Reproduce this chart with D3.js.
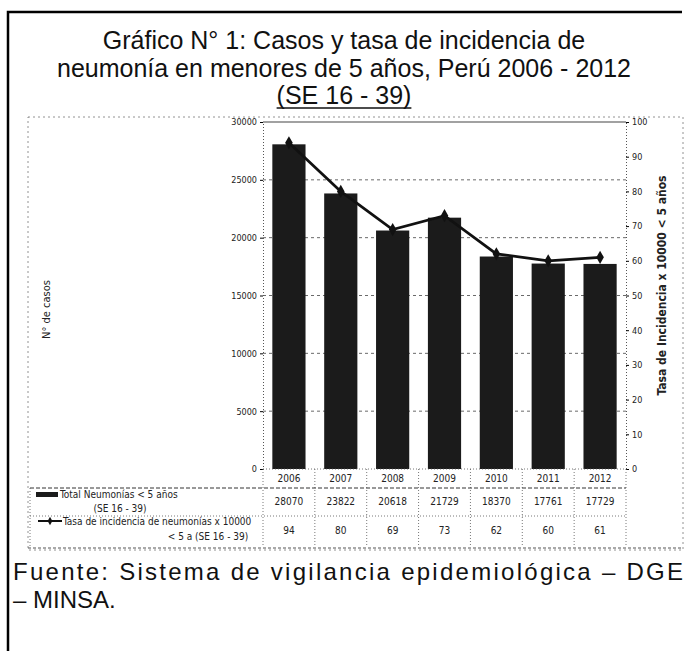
<!DOCTYPE html>
<html>
<head>
<meta charset="utf-8">
<script src="https://cdn.jsdelivr.net/npm/d3@7"></script>
<style>
  body { margin: 0; background: #fff; }
  svg { display: block; }
  .small { font-family: "Liberation Sans Narrow", "DejaVu Sans Condensed", "Liberation Sans", sans-serif; }
  .big { font-family: "Liberation Sans", Arial, sans-serif; }
</style>
</head>
<body>
<div id="chart"></div>
<script>
// data
const years = ["2006", "2007", "2008", "2009", "2010", "2011", "2012"];
const casos = [28070, 23822, 20618, 21729, 18370, 17761, 17729];
const tasa = [94, 80, 69, 73, 62, 60, 61];
const leftTicks = [0, 5000, 10000, 15000, 20000, 25000, 30000];
const rightTicks = [0, 10, 20, 30, 40, 50, 60, 70, 80, 90, 100];
const titleLines = [
  "Gráfico N° 1: Casos y tasa de incidencia de",
  "neumonía en menores de 5 años, Perú 2006 - 2012",
  "(SE 16 - 39)"
];

const width = 688, height = 651;
const plot = { left: 263, right: 626, top: 122, bottom: 469 };

const svg = d3.select("#chart").append("svg")
  .attr("width", width)
  .attr("height", height);

// outer frame (thick left + top)
svg.append("path")
  .attr("d", "M8,651 V12 H682")
  .attr("fill", "none")
  .attr("stroke", "#000")
  .attr("stroke-width", 2.5);

// chart frame, dotted like the scan
svg.append("rect")
  .attr("x", 28).attr("y", 117)
  .attr("width", 655).attr("height", 433)
  .attr("fill", "none")
  .attr("stroke", "#777")
  .attr("stroke-width", 0.8)
  .attr("stroke-dasharray", "2,3");

// title
const title = svg.append("g").attr("class", "big");
titleLines.forEach((t, i) => {
  title.append("text")
    .attr("x", 344)
    .attr("y", 49 + i * 27.5)
    .attr("text-anchor", "middle")
    .attr("font-size", 25)
    .attr("fill", "#111")
    .text(t);
});
// underline under last title line
const last = title.selectAll("text").nodes()[2].getBBox();
svg.append("line")
  .attr("x1", last.x).attr("x2", last.x + last.width)
  .attr("y1", 108).attr("y2", 108)
  .attr("stroke", "#111").attr("stroke-width", 1.3);

// scales
const x = d3.scaleBand()
  .domain(years)
  .range([plot.left, plot.right])
  .paddingInner(0.36)
  .paddingOuter(0.18);
const xBand = d3.scaleBand().domain(years).range([plot.left, plot.right]);
const yL = d3.scaleLinear().domain([0, 30000]).range([plot.bottom, plot.top]);
const yR = d3.scaleLinear().domain([0, 100]).range([plot.bottom, plot.top]);

// gridlines
svg.append("g")
  .selectAll("line")
  .data(leftTicks.filter(d => d > 0))
  .join("line")
  .attr("x1", plot.left).attr("x2", plot.right)
  .attr("y1", d => yL(d)).attr("y2", d => yL(d))
  .attr("stroke", "#444")
  .attr("stroke-width", d => d === 30000 ? 1.2 : 0.8)
  .attr("stroke-dasharray", d => d === 30000 ? null : "3,3");

// bars
svg.append("g")
  .selectAll("rect")
  .data(years)
  .join("rect")
  .attr("x", d => x(d))
  .attr("width", x.bandwidth())
  .attr("y", (d, i) => yL(casos[i]))
  .attr("height", (d, i) => yL(0) - yL(casos[i]))
  .attr("fill", "#1b1b1b");

// left axis
const axL = svg.append("g")
  .attr("class", "small")
  .attr("transform", `translate(${plot.left},0)`)
  .call(d3.axisLeft(yL).tickValues(leftTicks).tickSize(3).tickFormat(d3.format("d")));
axL.select(".domain").attr("stroke", "#555").attr("stroke-dasharray", "1,2");
axL.selectAll("text").attr("font-size", 9).attr("fill", "#222").attr("font-family", null);

// right axis
const axR = svg.append("g")
  .attr("class", "small")
  .attr("transform", `translate(${plot.right},0)`)
  .call(d3.axisRight(yR).tickValues(rightTicks).tickSize(3).tickFormat(d3.format("d")));
axR.select(".domain").attr("stroke", "#555").attr("stroke-dasharray", "1,2");
axR.selectAll("text").attr("font-size", 9).attr("fill", "#222").attr("font-family", null);

// axis titles
svg.append("text")
  .attr("class", "small")
  .attr("transform", `translate(50,${(plot.top + plot.bottom) / 2 + 14}) rotate(-90)`)
  .attr("text-anchor", "middle")
  .attr("font-size", 11)
  .attr("fill", "#222")
  .text("N° de casos");
svg.append("text")
  .attr("class", "small")
  .attr("transform", `translate(666,${(plot.top + plot.bottom) / 2 - 10}) rotate(-90)`)
  .attr("text-anchor", "middle")
  .attr("font-size", 12)
  .attr("font-weight", "bold")
  .attr("fill", "#222")
  .text("Tasa de Incidencia x 10000 < 5 años");

// line + diamond markers
const cx = d => xBand(d) + xBand.bandwidth() / 2;
const line = d3.line()
  .x((d, i) => cx(years[i]))
  .y(d => yR(d));
svg.append("path")
  .datum(tasa)
  .attr("d", line)
  .attr("fill", "none")
  .attr("stroke", "#111")
  .attr("stroke-width", 2.8);
svg.append("g")
  .selectAll("path")
  .data(tasa)
  .join("path")
  .attr("d", d3.symbol(d3.symbolDiamond, 50))
  .attr("transform", (d, i) => `translate(${cx(years[i])},${yR(d)})`)
  .attr("fill", "#111");

// data table under the chart
const table = svg.append("g").attr("class", "small");
const dash = sel => sel.attr("stroke", "#555").attr("stroke-width", 0.8).attr("stroke-dasharray", "1,2");

table.append("line")
  .attr("x1", plot.left).attr("x2", plot.right)
  .attr("y1", plot.bottom).attr("y2", plot.bottom)
  .call(dash);
table.append("line")
  .attr("x1", 30).attr("x2", plot.right).attr("y1", 488).attr("y2", 488)
  .attr("stroke", "#333").attr("stroke-width", 1).attr("stroke-dasharray", "4,2");
table.append("line")
  .attr("x1", 30).attr("x2", plot.right).attr("y1", 516).attr("y2", 516)
  .call(dash);
// vertical rules
years.concat(["end"]).forEach((yr, i) => {
  const xx = i < years.length ? xBand(yr) : plot.right;
  table.append("line")
    .attr("x1", xx).attr("x2", xx)
    .attr("y1", plot.bottom).attr("y2", 546)
    .call(dash);
});
table.append("line")
  .attr("x1", 30).attr("x2", 30).attr("y1", 488).attr("y2", 546).call(dash);
table.append("line")
  .attr("x1", 28).attr("x2", 683).attr("y1", 548).attr("y2", 548)
  .attr("stroke", "#555").attr("stroke-width", 1).attr("stroke-dasharray", "3,2");

// year labels
table.selectAll(".yr")
  .data(years)
  .join("text")
  .attr("x", d => cx(d))
  .attr("y", 482)
  .attr("text-anchor", "middle")
  .attr("font-size", 10)
  .attr("fill", "#222")
  .text(d => d);
// values
table.selectAll(".cv")
  .data(casos)
  .join("text")
  .attr("x", (d, i) => cx(years[i]))
  .attr("y", 505)
  .attr("text-anchor", "middle")
  .attr("font-size", 10)
  .attr("fill", "#222")
  .text(d => d);
table.selectAll(".tv")
  .data(tasa)
  .join("text")
  .attr("x", (d, i) => cx(years[i]))
  .attr("y", 534)
  .attr("text-anchor", "middle")
  .attr("font-size", 10)
  .attr("fill", "#222")
  .text(d => d);

// row headers with legend keys
table.append("rect")
  .attr("x", 36).attr("y", 492).attr("width", 22).attr("height", 5)
  .attr("fill", "#1b1b1b");
table.append("text")
  .attr("x", 60).attr("y", 498).attr("font-size", 10).attr("fill", "#222")
  .text("Total Neumonías < 5 años");
table.append("text")
  .attr("x", 120).attr("y", 512).attr("font-size", 10).attr("fill", "#222")
  .attr("text-anchor", "middle")
  .text("(SE 16 - 39)");
table.append("line")
  .attr("x1", 38).attr("x2", 62).attr("y1", 521).attr("y2", 521)
  .attr("stroke", "#111").attr("stroke-width", 2);
table.append("path")
  .attr("d", d3.symbol(d3.symbolDiamond, 20))
  .attr("transform", "translate(50,521)")
  .attr("fill", "#111");
table.append("text")
  .attr("x", 63).attr("y", 525).attr("font-size", 10).attr("fill", "#222")
  .text("Tasa de incidencia de neumonías x 10000");
table.append("text")
  .attr("x", 208).attr("y", 540).attr("font-size", 10).attr("fill", "#222")
  .attr("text-anchor", "middle")
  .text("< 5 a (SE 16 - 39)");

// source note
const src = svg.append("g").attr("class", "big");
src.append("text")
  .attr("x", 13).attr("y", 580)
  .attr("font-size", 24)
  .attr("fill", "#111")
  .attr("textLength", 670)
  .attr("lengthAdjust", "spacing")
  .text("Fuente: Sistema de vigilancia epidemiológica – DGE");
src.append("text")
  .attr("x", 13).attr("y", 608)
  .attr("font-size", 24)
  .attr("fill", "#111")
  .text("– MINSA.");
</script>
</body>
</html>
